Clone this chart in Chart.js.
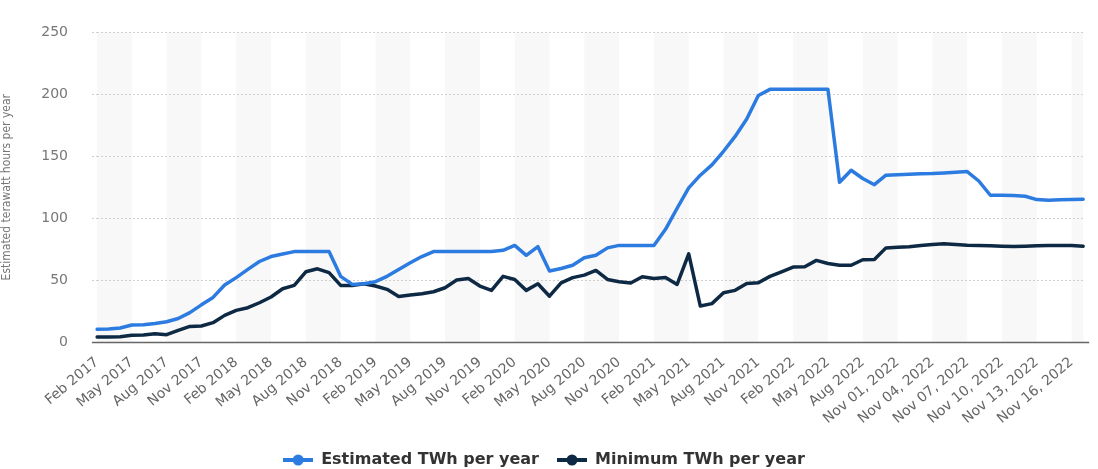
<!DOCTYPE html>
<html>
<head>
<meta charset="utf-8">
<script src="https://cdn.jsdelivr.net/npm/chart.js@4"></script>
<style>
  html, body { margin: 0; padding: 0; background: #fff; }
  #wrap { width: 1098px; height: 469px; position: relative; }
</style>
</head>
<body>
<div id="wrap"><canvas id="chart"></canvas></div>
<script>
// monthly Feb 2017 - Oct 2022, then daily Nov 2022
const months = ['Jan', 'Feb', 'Mar', 'Apr', 'May', 'Jun', 'Jul', 'Aug', 'Sep', 'Oct', 'Nov', 'Dec'];
const labels = [];
for (let y = 2017; y <= 2022; y++) {
    for (let m = 0; m < 12; m++) {
        if (y === 2017 && m < 1) continue;
        if (y === 2022 && m > 9) continue;
        labels.push(months[m] + ' ' + y);
    }
}
const novDays = ['01', '02', '03', '04', '05', '06', '07', '08', '09', '10', '11', '12', '13', '14', '15', '16', '17'];
novDays.forEach(d => labels.push('Nov ' + d + ', 2022'));

const estimated = [
    10.2, 10.5, 11.3, 13.7, 14, 15, 16.4, 19, 23.7, 30, 36, 46,
    52, 58.6, 65, 69, 71, 73, 73, 73, 73, 53, 46.5, 47,
    48.7, 53, 58.6, 64, 69, 73, 73, 73, 73, 73, 73, 74,
    78, 70, 77, 57.3, 59.4, 62, 68, 70, 76, 78, 78, 78,
    78, 91, 108, 124.5, 134.7, 143, 154, 166, 180, 199, 204, 204,
    204, 204, 204, 204, 129, 138.7, 132, 127, 134.7,
    135, 135.5, 135.8, 136, 136.5, 137, 137.6, 130, 118.5, 118.5, 118.3,
    117.7, 115, 114.5, 114.8, 115, 115.3
];
const minimum = [
    4, 4, 4.3, 5.4, 5.6, 6.7, 5.9, 9.4, 12.6, 12.9, 15.6, 21.5,
    25.5, 27.7, 31.7, 36.3, 43, 45.7, 56.7, 59.1, 56, 45.7, 45.7, 47,
    45.2, 42.5, 36.8, 37.9, 39, 40.6, 43.8, 50, 51.3, 45.2, 41.7, 53,
    50.5, 41.7, 47, 37, 47.8, 52, 54, 57.8, 50.5, 48.7, 47.6, 52.7,
    51.3, 52, 46.5, 71.2, 29, 31, 39.8, 41.7, 47.3, 47.8, 53, 56.7,
    60.5, 60.8, 65.9, 63.4, 62, 62, 66.4, 66.7, 76,
    76.6, 76.9, 78, 78.8, 79.3, 78.8, 78.2, 78, 77.7, 77.4, 77.2,
    77.4, 77.7, 78, 78, 78, 77.4
];
const yTicks = [0, 50, 100, 150, 200, 250];

const blue = '#2c7be0';
const navy = '#0e2944';

function legendIcon(color) {
    const c = document.createElement('canvas');
    c.width = 30;
    c.height = 12;
    const g = c.getContext('2d');
    g.strokeStyle = color;
    g.lineWidth = 4;
    g.beginPath();
    g.moveTo(0, 6);
    g.lineTo(30, 6);
    g.stroke();
    g.fillStyle = color;
    g.beginPath();
    g.arc(15, 6, 5.5, 0, Math.PI * 2);
    g.fill();
    return c;
}

// alternating column bands, one every 3 categories
const bands = {
    id: 'bands',
    beforeDraw(chart) {
        const {ctx, chartArea} = chart;
        const x = chart.scales.x;
        ctx.save();
        ctx.fillStyle = '#f8f8f8';
        for (let i = 0, k = 0; i < labels.length - 1; i += 3, k++) {
            if (k % 2) continue;
            const x0 = x.getPixelForValue(i);
            const x1 = x.getPixelForValue(Math.min(i + 3, labels.length - 1));
            ctx.fillRect(x0, chartArea.top, x1 - x0, chartArea.bottom - chartArea.top);
        }
        ctx.restore();
    },
    afterDatasetsDraw(chart) {
        const {ctx, chartArea} = chart;
        ctx.save();
        ctx.strokeStyle = '#666';
        ctx.lineWidth = 1.5;
        ctx.beginPath();
        ctx.moveTo(chartArea.left - 5, chartArea.bottom + 0.5);
        ctx.lineTo(chartArea.right + 6, chartArea.bottom + 0.5);
        ctx.stroke();
        ctx.restore();
    }
};

const ctx = document.getElementById('chart').getContext('2d');
new Chart(ctx, {
    type: 'line',
    data: {
        labels: labels,
        datasets: [
            { label: 'Estimated TWh per year', data: estimated, borderColor: blue, backgroundColor: blue },
            { label: 'Minimum TWh per year', data: minimum, borderColor: navy, backgroundColor: navy }
        ]
    },
    options: {
        responsive: true,
        maintainAspectRatio: false,
        animation: false,
        layout: { padding: { left: 0, right: 10, top: 23, bottom: -9 } },
        elements: {
            line: { borderWidth: 3.5, tension: 0, borderJoinStyle: 'round', borderCapStyle: 'round' },
            point: { radius: 0, hoverRadius: 0 }
        },
        plugins: {
            tooltip: { enabled: false },
            legend: {
                position: 'bottom',
                labels: {
                    usePointStyle: true,
                    pointStyleWidth: 30,
                    padding: 18,
                    color: '#333',
                    font: { family: 'DejaVu Sans', size: 16, weight: 'bold' },
                    generateLabels(chart) {
                        return chart.data.datasets.map((ds, i) => ({
                            text: ds.label,
                            fillStyle: ds.borderColor,
                            strokeStyle: ds.borderColor,
                            fontColor: '#333',
                            pointStyle: legendIcon(ds.borderColor),
                            datasetIndex: i,
                            hidden: false,
                            lineWidth: 0
                        }));
                    }
                }
            }
        },
        scales: {
            x: {
                type: 'category',
                offset: false,
                afterFit: s => { s.height = 92; },
                grid: { display: false },
                border: { display: false },
                ticks: {
                    autoSkip: false,
                    minRotation: 40,
                    maxRotation: 40,
                    padding: 4,
                    color: '#666',
                    font: { family: 'DejaVu Sans', size: 14 },
                    callback: (v, i) => (i % 3 === 0 ? labels[i] : '')
                }
            },
            y: {
                min: 0,
                max: 250,
                afterBuildTicks: s => { s.ticks = yTicks.map(v => ({ value: v })); },
                afterFit: s => { s.width = 97; },
                grid: {
                    color: c => (c.tick.value === 0 ? 'rgba(0,0,0,0)' : '#d0d0d0'),
                    borderDash: [2, 2],
                    drawTicks: true,
                    tickLength: 5,
                    tickBorderDash: [2, 2],
                    tickColor: c => (c.tick.value === 0 ? 'rgba(0,0,0,0)' : '#d0d0d0')
                },
                border: { display: false, dash: [2, 2] },
                ticks: {
                    padding: 24,
                    color: '#777',
                    font: { family: 'DejaVu Sans', size: 14 }
                },
                title: {
                    display: true,
                    text: 'Estimated terawatt hours per year',
                    color: '#777',
                    padding: { top: 0, bottom: 0 },
                    font: { family: "'DejaVu Sans Condensed', 'Roboto Condensed', Roboto", size: 12 }
                }
            }
        }
    },
    plugins: [bands]
});
</script>
</body>
</html>
